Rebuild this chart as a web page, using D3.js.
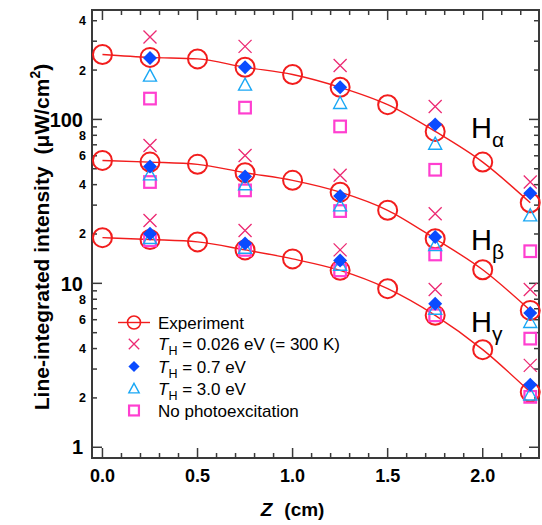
<!DOCTYPE html>
<html>
<head>
<meta charset="utf-8">
<script src="https://cdn.jsdelivr.net/npm/d3@7"></script>
<style>
  body { margin: 0; background: #fff; }
  text { font-family: "Liberation Sans", Arial, sans-serif; }
</style>
</head>
<body>
<div id="chart"></div>
<script>
// positions along Z (cm)
const zExp = [0, 0.25, 0.5, 0.75, 1.0, 1.25, 1.5, 1.75, 2.0, 2.25];
const zModel = [0.25, 0.75, 1.25, 1.75, 2.25];

// experiment (circles + line)
const expHa = [249, 239, 234, 208, 188, 157, 123, 84.5, 54.9, 31.0];
const expHb = [56.2, 54.9, 53.2, 47.3, 42.5, 36.0, 27.9, 18.7, 12.1, 6.84];
const expHg = [19.0, 18.5, 17.9, 16.0, 14.1, 12.0, 9.28, 6.38, 3.94, 2.17];

// T_H = 0.026 eV
const t026Ha = [318, 279, 213, 120, 41.5];
const t026Hb = [69.4, 60.3, 45.6, 26.6, 9.16];
const t026Hg = [24.2, 21.0, 16.0, 9.16, 3.16];
// T_H = 0.7 eV
const t07Ha = [237, 208, 157, 93.2, 35.5];
const t07Hb = [51.7, 44.9, 34.1, 19.2, 6.59];
const t07Hg = [20.1, 17.5, 13.8, 7.52, 2.41];
// T_H = 3.0 eV
const t30Ha = [185, 163, 126, 71.1, 26.0];
const t30Hb = [46.2, 40.2, 29.9, 17.1, 5.81];
const t30Hg = [18.9, 16.5, 13.0, 7.0, 2.1];
// no photoexcitation
const noPhHa = [134, 118, 90.6, 49.3, 15.7];
const noPhHb = [41.5, 36.9, 27.6, 15.0, 4.60];
const noPhHg = [18.3, 16.0, 12.0, 6.38, 2.03];

const yMajor = [1, 10, 100];
const yMinorLabeled = [2, 4, 6, 8, 20, 40, 60, 80, 200, 400];
const xTicks = [0, 0.5, 1.0, 1.5, 2.0];

const W = 542, H = 525;
const margin = {top: 10, right: 3, bottom: 67, left: 92};
const width = W - margin.left - margin.right,
      height = H - margin.top - margin.bottom;

const svg = d3.select("#chart").append("svg")
    .attr("width", W).attr("height", H);
const g = svg.append("g")
    .attr("transform", `translate(${margin.left},${margin.top})`);

const x = d3.scaleLinear().domain([-0.055, 2.296]).range([0, width]);
const y = d3.scaleLog().domain([0.86, 465]).range([height, 0]);

// all ticks for log axis
let logTicks = [];
[1, 10, 100].forEach(d => { for (let k = 1; k < 10; k++) logTicks.push(d * k); });
logTicks = logTicks.filter(v => v >= 0.86 && v <= 465);
let xMinor = d3.range(0, 23).map(i => i / 10).filter(v => v * 10 % 5 !== 0);

const axisColor = "#3a3a3a";

// frame
g.append("rect").attr("width", width).attr("height", height)
    .attr("fill", "none").attr("stroke", axisColor).attr("stroke-width", 2);

// y ticks (inner, both sides)
logTicks.forEach(v => {
  const len = yMajor.includes(v) ? 10 : 5;
  [[0, len], [width, width - len]].forEach(([a, b]) => {
    g.append("line").attr("x1", a).attr("x2", b)
      .attr("y1", y(v)).attr("y2", y(v))
      .attr("stroke", axisColor).attr("stroke-width", 1.5);
  });
});
// x ticks (inner, top & bottom)
xTicks.concat(xMinor).forEach(v => {
  const len = xTicks.includes(v) ? 10 : 5;
  [[height, height - len], [0, len]].forEach(([a, b]) => {
    g.append("line").attr("x1", x(v)).attr("x2", x(v))
      .attr("y1", a).attr("y2", b)
      .attr("stroke", axisColor).attr("stroke-width", 1.5);
  });
});

// y tick labels
yMajor.forEach(v => {
  g.append("text").attr("x", -9).attr("y", y(v)).attr("dy", "0.36em")
    .attr("text-anchor", "end").attr("font-size", 20).attr("font-weight", "bold")
    .text(v);
});
yMinorLabeled.forEach(v => {
  g.append("text").attr("x", -6).attr("y", y(v)).attr("dy", "0.36em")
    .attr("text-anchor", "end").attr("font-size", 12.5).attr("font-weight", "bold")
    .text(String(v)[0]);
});
// x tick labels
xTicks.forEach(v => {
  g.append("text").attr("x", x(v)).attr("y", height + 24)
    .attr("text-anchor", "middle").attr("font-size", 18).attr("font-weight", "bold")
    .text(v.toFixed(1));
});

// axis titles
const xt = g.append("text").attr("x", x(1.0)).attr("y", height + 58)
    .attr("text-anchor", "middle").attr("font-size", 19).attr("font-weight", "bold");
xt.append("tspan").attr("font-style", "italic").text("Z");
xt.append("tspan").attr("dx", 12).text("(cm)");

const yt = svg.append("text")
    .attr("transform", `translate(49,237) rotate(-90)`)
    .attr("text-anchor", "middle").attr("font-size", 21).attr("font-weight", "bold");
yt.append("tspan").text("Line-integrated intensity");
yt.append("tspan").attr("dx", 12).text("(\u03BCW/cm");
yt.append("tspan").attr("dy", -9).attr("font-size", 14).text("2");
yt.append("tspan").attr("dy", 9).text(")");

const red = "#f21d1d", pink = "#ec2a73", blue = "#0a4bff", cyan = "#1aa8f5", magenta = "#ff3fd0";

const line = d3.line().x((d, i) => x(zExp[i])).y(d => y(d)).curve(d3.curveMonotoneX);

function drawX(sel, cx, cy, k = 1) {
  const s = 6.5 * k;
  sel.append("path").attr("d", `M${cx - s},${cy - s}L${cx + s},${cy + s}M${cx - s},${cy + s}L${cx + s},${cy - s}`)
    .attr("stroke", pink).attr("stroke-width", 1.3).attr("fill", "none");
}
function drawDiamond(sel, cx, cy, k = 1) {
  const s = 7 * k;
  sel.append("path").attr("d", `M${cx},${cy - s}L${cx + s},${cy}L${cx},${cy + s}L${cx - s},${cy}Z`)
    .attr("fill", blue);
}
function drawTri(sel, cx, cy, k = 1) {
  const s = 6.5 * k;
  sel.append("path").attr("d", `M${cx},${cy - s}L${cx + s},${cy + s * 0.85}L${cx - s},${cy + s * 0.85}Z`)
    .attr("fill", "none").attr("stroke", cyan).attr("stroke-width", 1.4);
}
function drawSquare(sel, cx, cy, k = 1) {
  const s = 5.8 * k;
  sel.append("rect").attr("x", cx - s).attr("y", cy - s).attr("width", 2 * s).attr("height", 2 * s)
    .attr("fill", "none").attr("stroke", magenta).attr("stroke-width", 2.2);
}
function drawCircle(sel, cx, cy) {
  sel.append("circle").attr("cx", cx).attr("cy", cy).attr("r", 9.5)
    .attr("fill", "none").attr("stroke", red).attr("stroke-width", 2);
}

const plot = g.append("g");
[expHa, expHb, expHg].forEach(s => {
  plot.append("path").datum(s).attr("d", line)
    .attr("fill", "none").attr("stroke", red).attr("stroke-width", 1.4);
});
[expHa, expHb, expHg].forEach(s => s.forEach((v, i) => drawCircle(plot, x(zExp[i]), y(v))));
[noPhHa, noPhHb, noPhHg].forEach(s => s.forEach((v, i) => drawSquare(plot, x(zModel[i]), y(v))));
[t30Ha, t30Hb, t30Hg].forEach(s => s.forEach((v, i) => drawTri(plot, x(zModel[i]), y(v))));
[t07Ha, t07Hb, t07Hg].forEach(s => s.forEach((v, i) => drawDiamond(plot, x(zModel[i]), y(v))));
[t026Ha, t026Hb, t026Hg].forEach(s => s.forEach((v, i) => drawX(plot, x(zModel[i]), y(v))));

// line labels
const lineLabels = [["\u03B1", 138], ["\u03B2", 250], ["\u03B3", 332]];
lineLabels.forEach(([sub, by]) => {
  const t = svg.append("text").attr("x", 471).attr("y", by).attr("font-size", 29);
  t.append("tspan").text("H");
  t.append("tspan").attr("dy", 9).attr("font-size", 21).text(sub);
});

// legend
const legend = svg.append("g");
const lx = 134, ltx = 158;
const rows = [322.5, 344, 366.5, 388.5, 410.5];
legend.append("line").attr("x1", 118).attr("x2", 150).attr("y1", rows[0]).attr("y2", rows[0])
  .attr("stroke", red).attr("stroke-width", 1.4);
legend.append("circle").attr("cx", lx).attr("cy", rows[0]).attr("r", 6.5)
  .attr("fill", "none").attr("stroke", red).attr("stroke-width", 1.6);
drawX(legend, lx, rows[1], 0.8);
drawDiamond(legend, lx, rows[2], 0.8);
drawTri(legend, lx, rows[3], 0.8);
drawSquare(legend, lx, rows[4], 0.85);

function legendText(yy) {
  return legend.append("text").attr("x", ltx).attr("y", yy).attr("dy", "0.36em").attr("font-size", 17);
}
legendText(rows[0]).text("Experiment");
["0.026 eV (= 300 K)", "0.7 eV", "3.0 eV"].forEach((lab, i) => {
  const t = legendText(rows[i + 1]);
  t.append("tspan").attr("font-style", "italic").text("T");
  t.append("tspan").attr("dy", 5).attr("font-size", 12.5).text("H");
  t.append("tspan").attr("dy", -5).text(" = " + lab);
});
legendText(rows[4]).text("No photoexcitation");
</script>
</body>
</html>
